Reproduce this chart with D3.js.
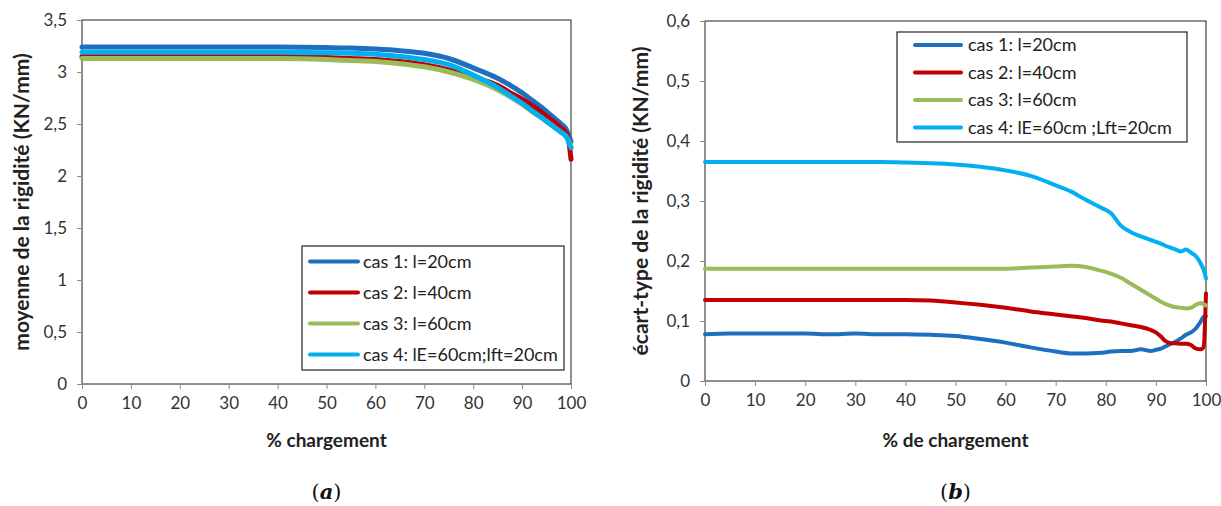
<!DOCTYPE html>
<html><head><meta charset="utf-8">
<script src="https://cdn.jsdelivr.net/npm/d3@7/dist/d3.min.js"></script>
<style>body{margin:0;background:#fff}svg{display:block}</style>
</head><body>
<svg id="c" width="1221" height="506"></svg>
<script>
// ---------- data ----------
const seriesNames = ["cas 1","cas 2","cas 3","cas 4"];
const legendA = ["cas 1: l=20cm","cas 2: l=40cm","cas 3: l=60cm","cas 4: lE=60cm;lft=20cm"];
const legendB = ["cas 1: l=20cm","cas 2: l=40cm","cas 3: l=60cm","cas 4: lE=60cm ;Lft=20cm"];
const colors = ["#1F6FC0","#C00000","#9BBB59","#00B0F0"];
const xTicks = [0,10,20,30,40,50,60,70,80,90,100];
const yTicksA = [0,0.5,1,1.5,2,2.5,3,3.5];
const yTicksB = [0,0.1,0.2,0.3,0.4,0.5,0.6];

// (a) moyenne de la rigidité
const pctA = [0,10,20,30,40,50,55,60,65,70,75,80,85,88,90,92,94,96,98,99,99.5,100];
const meanCas1 = [3.24,3.24,3.24,3.24,3.24,3.235,3.23,3.22,3.205,3.18,3.13,3.04,2.94,2.86,2.80,2.73,2.66,2.58,2.50,2.45,2.40,2.33];
const meanCas2 = [3.15,3.15,3.15,3.15,3.15,3.14,3.13,3.12,3.10,3.07,3.02,2.95,2.87,2.79,2.74,2.68,2.61,2.54,2.46,2.41,2.35,2.16];
const meanCas3 = [3.13,3.13,3.13,3.13,3.13,3.12,3.11,3.10,3.08,3.05,3.00,2.93,2.83,2.75,2.69,2.62,2.56,2.49,2.42,2.38,2.34,2.28];
const meanCas4 = [3.19,3.19,3.19,3.19,3.19,3.185,3.18,3.17,3.15,3.12,3.07,2.97,2.85,2.76,2.70,2.63,2.56,2.49,2.42,2.38,2.33,2.27];

// (b) écart-type de la rigidité
const pctB = [0,5,10,15,20,25,30,35,40,45,50,55,60,65,70,73,76,79,81,83,85,87,89,90,91,92,93,94,95,96,97,98,99,99.5,100];
const sdCas1 = [0.078,0.079,0.079,0.079,0.079,0.078,0.079,0.078,0.078,0.077,0.075,0.070,0.064,0.056,0.049,0.046,0.046,0.047,0.049,0.050,0.050,0.053,0.050,0.052,0.054,0.058,0.062,0.066,0.071,0.077,0.081,0.088,0.100,0.107,0.108];
const sdCas2 = [0.135,0.135,0.135,0.135,0.135,0.135,0.135,0.135,0.135,0.134,0.131,0.127,0.122,0.116,0.111,0.108,0.105,0.101,0.099,0.096,0.093,0.090,0.085,0.081,0.074,0.066,0.063,0.063,0.062,0.062,0.060,0.054,0.053,0.056,0.146];
const sdCas3 = [0.187,0.187,0.187,0.187,0.187,0.187,0.187,0.187,0.187,0.187,0.187,0.187,0.187,0.189,0.191,0.192,0.190,0.184,0.179,0.172,0.162,0.152,0.142,0.137,0.132,0.128,0.125,0.123,0.122,0.121,0.122,0.127,0.130,0.128,0.126];
const sdCas4 = [0.365,0.365,0.365,0.365,0.365,0.365,0.365,0.365,0.364,0.363,0.361,0.357,0.351,0.342,0.326,0.316,0.302,0.289,0.280,0.259,0.248,0.241,0.235,0.232,0.229,0.225,0.222,0.219,0.216,0.219,0.214,0.208,0.195,0.186,0.171];

// ---------- drawing ----------
const svg = d3.select("#c");
const FONT = "Lato, 'Open Sans', sans-serif";
const fmt = d => String(d).replace(".", ",");

function panel(cfg){
  const x = d3.scaleLinear().domain([0,100]).range([cfg.x0, cfg.x1]);
  const y = d3.scaleLinear().domain(cfg.yDomain).range([cfg.yBottom, cfg.yTop]);
  const g = svg.append("g");
  // plot area border
  g.append("rect").attr("x", cfg.x0).attr("y", cfg.yTop)
    .attr("width", cfg.x1-cfg.x0).attr("height", cfg.yBottom-cfg.yTop)
    .attr("fill","none").attr("stroke","#222").attr("stroke-width",1);
  // axes
  const xa = g.append("g").attr("transform",`translate(0,${cfg.yBottom})`)
    .call(d3.axisBottom(x).tickValues(xTicks).tickSize(5).tickSizeOuter(0).tickPadding(8).tickFormat(d=>d));
  const ya = g.append("g").attr("transform",`translate(${cfg.x0},0)`)
    .call(d3.axisLeft(y).tickValues(cfg.yTicks).tickSize(5).tickSizeOuter(0).tickPadding(10).tickFormat(fmt));
  [xa,ya].forEach(a=>{
    a.selectAll("path,line").attr("stroke","#8c8c8c");
    a.selectAll("text").attr("font-family",FONT).attr("font-size",17).attr("fill","#333");
  });
  // lines
  const line = d3.line().x(d=>x(d[0])).y(d=>y(d[1])).curve(d3.curveMonotoneX);
  cfg.series.forEach((vals,i)=>{
    g.append("path").datum(cfg.pct.map((p,k)=>[p,vals[k]]))
      .attr("d", line).attr("fill","none").attr("stroke",colors[i])
      .attr("stroke-width",cfg.lw).attr("stroke-linejoin","round").attr("stroke-linecap","round");
  });
  // axis titles
  g.append("text").attr("x",(cfg.x0+cfg.x1)/2).attr("y",447).attr("text-anchor","middle")
    .attr("font-family",FONT).attr("font-weight","bold").attr("font-size",19).attr("fill","#222")
    .text(cfg.xTitle);
  g.append("text").attr("transform",`translate(${cfg.yTitleX},${(cfg.yTop+cfg.yBottom)/2}) rotate(-90)`)
    .attr("text-anchor","middle").attr("font-family",FONT).attr("font-weight","bold")
    .attr("font-size",21).attr("fill","#222").text(cfg.yTitle);
  // caption
  g.append("text").attr("x",(cfg.x0+cfg.x1)/2).attr("y",499).attr("text-anchor","middle")
    .attr("font-family","'DejaVu Serif', serif").attr("font-size",21).attr("fill","#111")
    .html(`(<tspan font-style="italic" font-weight="bold">${cfg.caption}</tspan>)`);
  // legend
  const L = cfg.legend;
  const lg = g.append("g");
  lg.append("rect").attr("x",L.x).attr("y",L.y).attr("width",L.w).attr("height",L.h)
    .attr("fill","#fff").attr("stroke","#222").attr("stroke-width",1.2);
  cfg.legendLabels.forEach((t,i)=>{
    const yy = L.y + L.first + i*L.step;
    lg.append("line").attr("x1",L.x+L.l1).attr("x2",L.x+L.l2).attr("y1",yy).attr("y2",yy)
      .attr("stroke",colors[i]).attr("stroke-width",4).attr("stroke-linecap","round");
    lg.append("text").attr("x",L.x+L.tx).attr("y",yy+6).attr("font-family",FONT)
      .attr("font-size",18).attr("fill","#222").text(t);
  });
}

panel({
  x0:82, x1:571, yTop:20, yBottom:384, yDomain:[0,3.5], yTicks:yTicksA,
  pct:pctA, series:[meanCas1,meanCas2,meanCas3,meanCas4], lw:5,
  xTitle:"% chargement", yTitle:"moyenne de la rigidité (KN/mm)", yTitleX:29, caption:"a",
  legend:{x:302,y:246,w:262,h:124,first:15.5,step:31,l1:8,l2:56,tx:61}, legendLabels:legendA
});
panel({
  x0:705, x1:1206, yTop:21, yBottom:381, yDomain:[0,0.6], yTicks:yTicksB,
  pct:pctB, series:[sdCas1,sdCas2,sdCas3,sdCas4], lw:4,
  xTitle:"% de chargement", yTitle:"écart-type de la rigidité (KN/mm)", yTitleX:648, caption:"b",
  legend:{x:897,y:32,w:290,h:110,first:13,step:27.5,l1:18,l2:64,tx:71}, legendLabels:legendB
});
</script>
</body></html>
